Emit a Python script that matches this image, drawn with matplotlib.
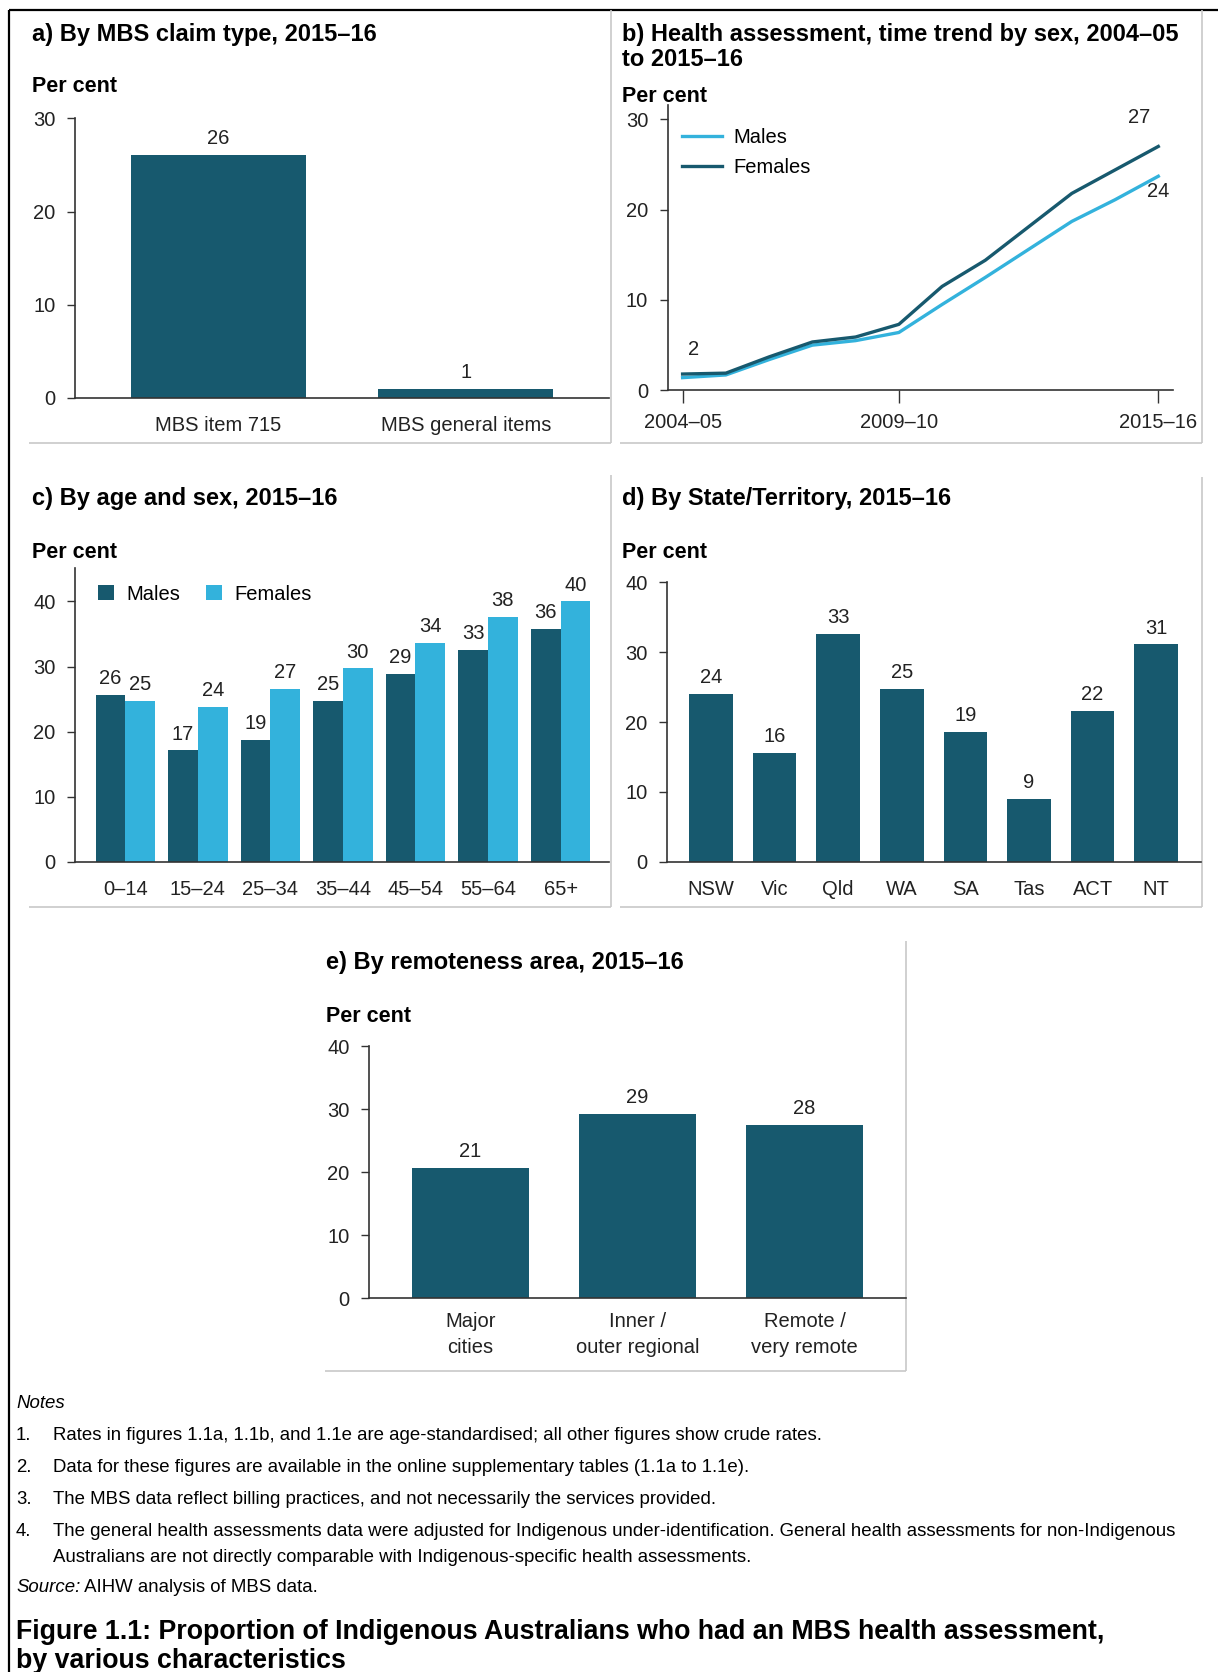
import matplotlib
matplotlib.use("Agg")
import matplotlib.pyplot as plt

plt.rcParams['font.family'] = ['Liberation Sans', 'DejaVu Sans']

DARK = '#17596e'
LIGHT = '#33b2dc'
AXC = '#333333'
GREY = '#c8c8c8'

# ---- data ----
claim_types = ['MBS item 715', 'MBS general items']
claim_values = [26.1, 0.96]

years = ['2004–05', '2005–06', '2006–07', '2007–08', '2008–09', '2009–10',
         '2010–11', '2011–12', '2012–13', '2013–14', '2014–15', '2015–16']
males_trend = [1.4, 1.7, 3.4, 5.0, 5.5, 6.4, 9.5, 12.5, 15.6, 18.7, 21.1, 23.7]
females_trend = [1.8, 1.9, 3.7, 5.35, 5.9, 7.3, 11.5, 14.4, 18.1, 21.8, 24.4, 27.0]
trend_ticks = ['2004–05', '2009–10', '2015–16']

age_groups = ['0–14', '15–24', '25–34', '35–44', '45–54', '55–64', '65+']
males_age = [25.6, 17.1, 18.7, 24.7, 28.8, 32.6, 35.8]
females_age = [24.7, 23.8, 26.6, 29.7, 33.6, 37.6, 40.0]

states = ['NSW', 'Vic', 'Qld', 'WA', 'SA', 'Tas', 'ACT', 'NT']
state_values = [24.0, 15.6, 32.6, 24.7, 18.6, 9.0, 21.6, 31.1]

remoteness = ['Major\ncities', 'Inner /\nouter regional', 'Remote /\nvery remote']
remote_values = [20.6, 29.2, 27.5]

notes = [
    ['Rates in figures 1.1a, 1.1b, and 1.1e are age-standardised; all other figures show crude rates.'],
    ['Data for these figures are available in the online supplementary tables (1.1a to 1.1e).'],
    ['The MBS data reflect billing practices, and not necessarily the services provided.'],
    ['The general health assessments data were adjusted for Indigenous under-identification. '
     'General health assessments for non-Indigenous',
     'Australians are not directly comparable with Indigenous-specific health assessments.'],
]

W, H = 1218, 1672
fig = plt.figure(figsize=(W / 100, H / 100), dpi=100)

# overlay in pixel coords for frames and free text
ov = fig.add_axes([0, 0, 1, 1])
ov.set_xlim(0, W)
ov.set_ylim(H, 0)
ov.axis('off')


def hline(y, x0, x1, c=GREY, lw=1.2):
    ov.plot([x0, x1], [y, y], color=c, lw=lw, solid_capstyle='butt')


def vline(x, y0, y1, c=GREY, lw=1.2):
    ov.plot([x, x], [y0, y1], color=c, lw=lw, solid_capstyle='butt')


# outer frame
hline(10, 8.7, W, c='black', lw=1.6)
vline(8.7, 10, H, c='black', lw=1.6)

# panel boxes
hline(442.6, 29, 611); vline(610.5, 10, 442.6)
hline(442.6, 620, 1202); vline(1202, 10, 442.6)
hline(906.5, 29, 611); vline(611, 475, 906.5)
hline(906.5, 620, 1202); vline(1202, 476.7, 906.5)
hline(1370.5, 324.5, 905.5); vline(905.5, 941, 1370.5)


def label(x, y, s, **kw):
    kw.setdefault('va', 'center')
    return ov.text(x, y, s, **kw)


TS = 17
label(32, 34, 'a) By MBS claim type, 2015–16', fontsize=TS, fontweight='bold')
label(622, 34, 'b) Health assessment, time trend by sex, 2004–05', fontsize=TS, fontweight='bold')
label(622, 59, 'to 2015–16', fontsize=TS, fontweight='bold')
label(32, 498, 'c) By age and sex, 2015–16', fontsize=TS, fontweight='bold')
label(622, 498, 'd) By State/Territory, 2015–16', fontsize=TS, fontweight='bold')
label(326, 962, 'e) By remoteness area, 2015–16', fontsize=TS, fontweight='bold')

PS = 15.5
for (x, y) in [(32, 87), (622, 96), (32, 552), (622, 552), (326, 1016)]:
    label(x, y, 'Per cent', fontsize=PS, fontweight='bold')


def add_ax(l, t, r, b):
    return fig.add_axes([l / W, 1 - b / H, (r - l) / W, (b - t) / H])


TK = 14.5


def style(ax, xticks_len=0, xpad=13):
    for s in ['top', 'right']:
        ax.spines[s].set_visible(False)
    for s in ['left', 'bottom']:
        ax.spines[s].set_color(AXC)
        ax.spines[s].set_linewidth(1.2)
    ax.tick_params(axis='y', direction='out', length=6, width=1.0, color=AXC,
                   labelsize=TK, labelcolor='#222222', pad=8)
    ax.tick_params(axis='x', direction='out', length=xticks_len, width=1.0, color=AXC,
                   labelsize=TK, labelcolor='#222222', pad=xpad)
    ax.patch.set_alpha(0)


def bar_labels(ax, bars, vals):
    for b, v in zip(bars, vals):
        ax.annotate(f'{v:.0f}', (b.get_x() + b.get_width() / 2, b.get_height()),
                    xytext=(0, 5), textcoords='offset points', ha='center', va='bottom',
                    fontsize=TK, color='#222222')


# a)
ax = add_ax(74.7, 118.4, 609, 397.8)
xa = range(len(claim_types))
bars = ax.bar(xa, claim_values, width=0.707, color=DARK)
bar_labels(ax, bars, claim_values)
ax.set_xlim(-0.581, 1.578)
ax.set_ylim(0, 30)
ax.set_yticks([0, 10, 20, 30])
ax.set_xticks(list(xa), claim_types)
style(ax, xpad=13)

# b)
ax = add_ax(667.6, 104.9, 1173, 390.3)
xb = range(len(years))
ax.plot(xb, males_trend, color=LIGHT, lw=2.4, label='Males')
ax.plot(xb, females_trend, color=DARK, lw=2.4, label='Females')
ax.set_xlim(-0.347, 11.34)
ax.set_ylim(0, 31.6)
ax.set_yticks([0, 10, 20, 30])
ax.set_xticks([years.index(t) for t in trend_ticks], trend_ticks)
style(ax, xticks_len=9, xpad=7)
ax.annotate(f'{females_trend[0]:.0f}', (0, females_trend[0]), xytext=(8, 11),
            textcoords='offset points', ha='center', va='bottom', fontsize=TK, color='#222222')
ax.annotate(f'{females_trend[-1]:.0f}', (11, females_trend[-1]), xytext=(-14, 14),
            textcoords='offset points', ha='center', va='bottom', fontsize=TK, color='#222222')
ax.annotate(f'{males_trend[-1]:.0f}', (11, males_trend[-1]), xytext=(0, -4),
            textcoords='offset points', ha='center', va='top', fontsize=TK, color='#222222')
ax.legend(loc='upper left', bbox_to_anchor=(0.0, 0.97), frameon=False, fontsize=TK,
          handlelength=2.0, handletextpad=0.55, labelspacing=0.55, borderaxespad=0.3)

# c)
ax = add_ax(75, 568.3, 609, 861.7)
xc = list(range(len(age_groups)))
bw = 0.41
bm = ax.bar([i - bw / 2 for i in xc], males_age, width=bw, color=DARK, label='Males')
bf = ax.bar([i + bw / 2 for i in xc], females_age, width=bw, color=LIGHT, label='Females')
bar_labels(ax, bm, males_age)
bar_labels(ax, bf, females_age)
ax.set_xlim(-0.693, 6.667)
ax.set_ylim(0, 45.1)
ax.set_yticks([0, 10, 20, 30, 40])
ax.set_xticks(xc, age_groups)
style(ax)
ax.legend(loc='upper left', bbox_to_anchor=(0.02, 0.985), ncol=2, frameon=False, fontsize=TK,
          handlelength=0.8, handleheight=0.8, handletextpad=0.6, columnspacing=1.3,
          borderaxespad=0.2)

# d)
ax = add_ax(667, 582.3, 1201, 861.7)
xd = range(len(states))
bars = ax.bar(xd, state_values, width=0.684, color=DARK)
bar_labels(ax, bars, state_values)
ax.set_xlim(-0.692, 7.704)
ax.set_ylim(0, 40)
ax.set_yticks([0, 10, 20, 30, 40])
ax.set_xticks(list(xd), states)
style(ax)

# e)
ax = add_ax(369, 1046.2, 905.5, 1298)
xe = range(len(remoteness))
bars = ax.bar(xe, remote_values, width=0.70, color=DARK)
bar_labels(ax, bars, remote_values)
ax.set_xlim(-0.607, 2.605)
ax.set_ylim(0, 40)
ax.set_yticks([0, 10, 20, 30, 40])
ax.set_xticks(list(xe), remoteness)
style(ax, xpad=10)
for t in ax.get_xticklabels():
    t.set_linespacing(1.45)

# notes
NS = 13.4
label(16, 1404, 'Notes', fontsize=NS, fontstyle='italic')
ny = [1436, 1468, 1500, 1532]
for i, (y, lines) in enumerate(zip(ny, notes)):
    label(16, y, f'{i + 1}.', fontsize=NS)
    for j, line in enumerate(lines):
        label(53, y + j * 25, line, fontsize=NS)
src = label(16, 1588, 'Source:', fontsize=NS, fontstyle='italic')
ov.annotate(' AIHW analysis of MBS data.', xy=(1, 0.5), xycoords=src, va='center',
            fontsize=NS)

CS = 19.3
label(16, 1632, 'Figure 1.1: Proportion of Indigenous Australians who had an MBS health assessment,',
      fontsize=CS, fontweight='bold')
label(16, 1661, 'by various characteristics', fontsize=CS, fontweight='bold')

fig.savefig('out.png', dpi=100)
